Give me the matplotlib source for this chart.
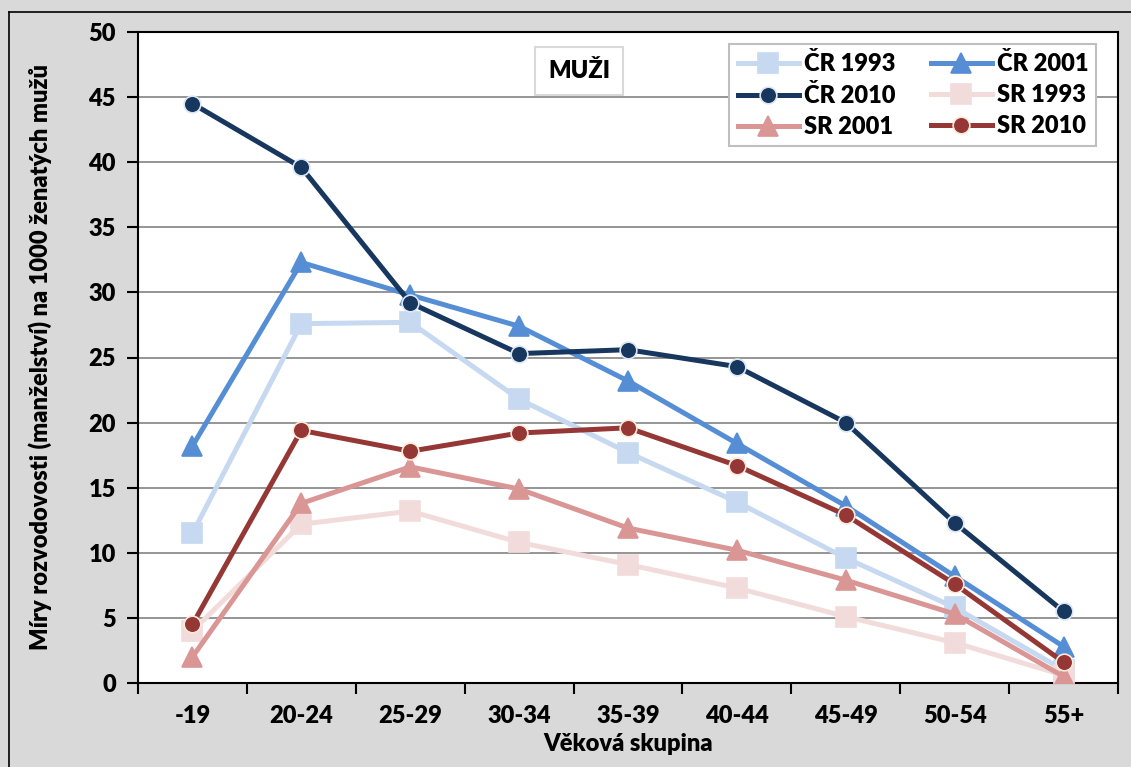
import numpy as np
import matplotlib.pyplot as plt
from matplotlib.lines import Line2D

plt.rcParams['font.family'] = ['Lato', 'DejaVu Sans']
plt.rcParams['font.weight'] = 800
W = 800

# vekove skupiny
groups = ['-19', '20-24', '25-29', '30-34', '35-39', '40-44', '45-49', '50-54', '55+']

# miry rozvodovosti na 1000 zenatych muzu
cr_1993 = [11.5, 27.6, 27.7, 21.8, 17.7, 13.9, 9.6, 5.8, 1.0]
cr_2001 = [18.2, 32.3, 29.8, 27.4, 23.2, 18.4, 13.6, 8.2, 2.8]
cr_2010 = [44.5, 39.6, 29.2, 25.3, 25.6, 24.3, 20.0, 12.3, 5.5]
sr_1993 = [4.0, 12.2, 13.2, 10.8, 9.1, 7.3, 5.1, 3.1, 0.6]
sr_2001 = [2.0, 13.8, 16.6, 14.9, 11.9, 10.2, 7.9, 5.3, 0.5]
sr_2010 = [4.5, 19.4, 17.8, 19.2, 19.6, 16.7, 12.9, 7.6, 1.6]

fig = plt.figure(figsize=(11.31, 7.67), dpi=100)
fig.patch.set_facecolor('#d9d9d9')
ax = fig.add_axes([138/1131, 1-683/767, 980/1131, 651/767])

# ramecek grafu
fig.add_artist(Line2D([9/1131, 9/1131], [0, 1-12/767], transform=fig.transFigure, color='black', lw=1.2))
fig.add_artist(Line2D([9/1131, 1], [1-12/767, 1-12/767], transform=fig.transFigure, color='black', lw=1.2))

x = np.arange(len(groups))

series = [
    ('ČR 1993', cr_1993, '#c6d9f1', 's', 14, '#c6d9f1'),
    ('ČR 2001', cr_2001, '#558ed5', '^', 14, '#558ed5'),
    ('ČR 2010', cr_2010, '#17375e', 'o', 12, '#dce6f2'),
    ('SR 1993', sr_1993, '#f2dcdb', 's', 14, '#f2dcdb'),
    ('SR 2001', sr_2001, '#d99694', '^', 14, '#d99694'),
    ('SR 2010', sr_2010, '#953735', 'o', 12, '#fde9d9'),
]

lines = {}
for name, vals, col, mk, ms, ec in series:
    ln, = ax.plot(x, vals, color=col, lw=3.6, marker=mk, markersize=ms,
                  markerfacecolor=col, markeredgecolor=ec, markeredgewidth=1.2,
                  label=name, zorder=3)
    lines[name] = ln

ax.set_xlim(-0.5, 8.5)
ax.set_ylim(0, 50)
ax.set_yticks(range(0, 51, 5))
ax.set_xticks(x)
ax.set_xticklabels(groups)
ax.set_xticks(np.arange(-0.5, 9, 1), minor=True)
ax.tick_params(axis='x', which='major', length=0, pad=16, labelsize=17)
ax.tick_params(axis='x', which='minor', length=8, width=1.5, direction='out')
ax.tick_params(axis='y', length=8, width=1.5, direction='out', labelsize=17, pad=8)
for lab in ax.get_xticklabels() + ax.get_yticklabels():
    lab.set_fontweight(W)

ax.grid(axis='y', color='#8c8c8c', lw=1.3)
ax.set_axisbelow(True)
for s in ax.spines.values():
    s.set_linewidth(1.5)

ax.set_xlabel('Věková skupina', fontsize=17, fontweight=W, labelpad=4)
ax.set_ylabel('Míry rozvodovosti (manželství) na 1000 ženatých mužů', fontsize=17, fontweight=W, labelpad=26)

ax.text(0.45, 0.94, 'MUŽI', transform=ax.transAxes, ha='center', va='center', fontsize=17, fontweight=W,
        bbox=dict(boxstyle='square,pad=0.55', facecolor='white', edgecolor='#d9d9d9', lw=1.5))

order = ['ČR 1993', 'ČR 2010', 'SR 2001', 'ČR 2001', 'SR 1993', 'SR 2010']
leg = ax.legend([lines[n] for n in order], order, ncol=2, loc='upper right',
                bbox_to_anchor=(0.978, 0.982), prop={'size': 17, 'weight': W}, frameon=True, fancybox=False,
                edgecolor='#bfbfbf', framealpha=1, handlelength=2.6, handletextpad=0.2,
                columnspacing=1.5, labelspacing=0.38, borderpad=0.35, borderaxespad=0)
leg.get_frame().set_linewidth(1.5)

plt.savefig('out.png', dpi=100, facecolor=fig.get_facecolor())
